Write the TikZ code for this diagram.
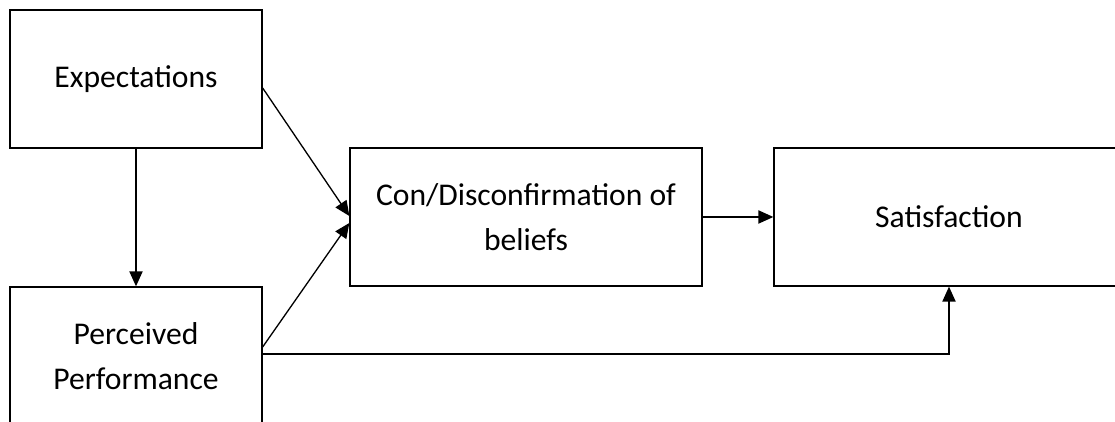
\documentclass[tikz,border=0pt]{standalone}
\usepackage{fontspec}
\setmainfont{Carlito}
\usetikzlibrary{arrows.meta,positioning}
\tikzset{
  box/.style={draw,line width=.75pt,minimum height=2.76cm,align=center,
              inner sep=0pt,font=\fontsize{18}{26}\selectfont},
  ar/.style ={-{Triangle[length=8.5pt,width=7.5pt]},line width=.75pt},
}

\begin{document}
\begin{tikzpicture}
  \useasboundingbox (0,0) rectangle (22.3,8.44);
  \clip (0,0) rectangle (22.3,8.44);
  % the four boxes
  \node[box,minimum width=5.04cm] (expt) at (2.72,6.86){Expectations};
  \node[box,minimum width=5.04cm] (perc) at (2.72,1.32){Perceived\\Performance};
  \node[box,minimum width=7.04cm] (conf) at (10.52,4.10){Con/Disconfirmation of\\beliefs};
  \node[box,minimum width=7.00cm] (sat)  at (18.98,4.10){Satisfaction};
  % links
  \draw[ar] (expt) -- (perc);
  \draw[ar] ([yshift=-.18cm]expt.east) -- ([yshift=.02cm]conf.west);
  \draw[ar] ([yshift=.18cm]perc.east) -- ([yshift=-.12cm]conf.west);
  \draw[ar] (conf.east) -- (sat.west);
  \draw[ar] ([yshift=.04cm]perc.east) -| (sat.south);
\end{tikzpicture}
\end{document}
